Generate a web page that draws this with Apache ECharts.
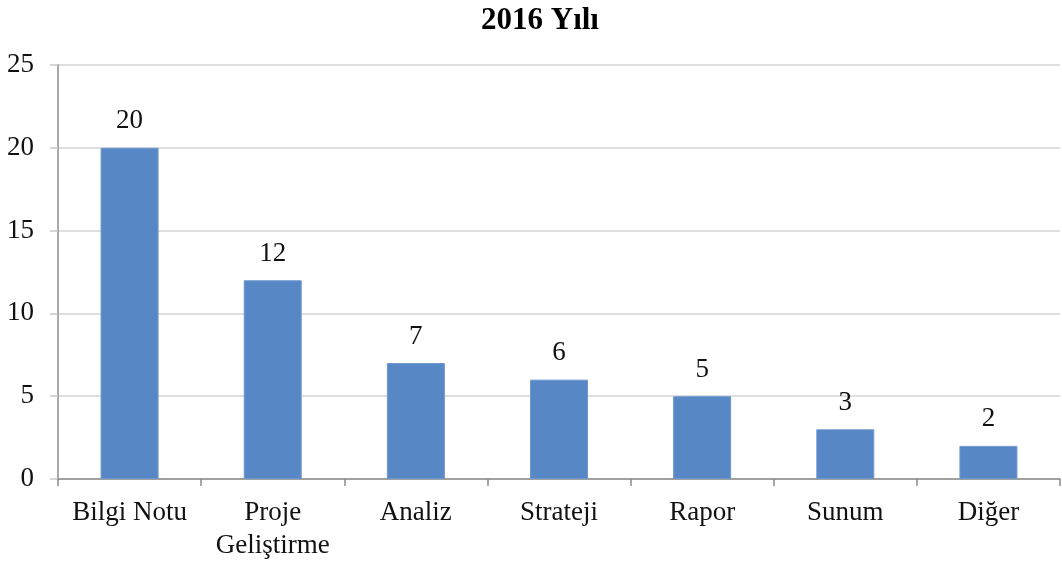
<!DOCTYPE html>
<html>
<head>
<meta charset="utf-8">
<script src="https://cdn.jsdelivr.net/npm/echarts@6/dist/echarts.min.js"></script>
<style>html,body{margin:0;padding:0;background:#fff;}#c{width:1062px;height:562px;}</style>
</head>
<body>
<div id="c"></div>
<script>
const title = '2016 Yılı';
const categories = ['Bilgi Notu', 'Proje\nGeliştirme', 'Analiz', 'Strateji', 'Rapor', 'Sunum', 'Diğer'];
const values = [20, 12, 7, 6, 5, 3, 2];
const yTicks = { min: 0, max: 25, interval: 5 };

const font = '"Liberation Serif", "DejaVu Serif", serif';
const chart = echarts.init(document.getElementById('c'), null, { renderer: 'canvas' });
chart.setOption({
  animation: false,
  backgroundColor: '#ffffff',
  title: {
    text: title,
    left: 476,
    top: 0,
    textStyle: { fontFamily: font, fontWeight: 'bold', fontSize: 31, color: '#000' }
  },
  grid: { left: 58, right: 2, top: 65, bottom: 81, containLabel: false },
  xAxis: {
    type: 'category',
    data: categories,
    axisLine: { show: true, lineStyle: { color: '#8c8c8c', width: 1.5 } },
    axisTick: { show: true, length: 7, lineStyle: { color: '#8c8c8c', width: 1.5 } },
    axisLabel: { margin: 17, fontFamily: font, fontSize: 27, color: '#111', lineHeight: 33, interval: 0 }
  },
  yAxis: {
    type: 'value',
    min: yTicks.min, max: yTicks.max, interval: yTicks.interval,
    axisLine: { show: true, lineStyle: { color: '#8c8c8c', width: 1.5 } },
    axisTick: { show: true, length: 8, lineStyle: { color: '#c8c8c8', width: 1.5 } },
    splitLine: { show: true, lineStyle: { color: '#d4d4d4', width: 1.5 } },
    axisLabel: { margin: 24, fontFamily: font, fontSize: 27, color: '#111' }
  },
  series: [{
    type: 'bar',
    data: values,
    barWidth: 58,
    itemStyle: { color: '#5787c5', borderColor: '#6d98cf', borderWidth: 1 },
    label: { show: true, position: 'top', distance: 13, fontFamily: font, fontSize: 27, color: '#111' }
  }]
});
</script>
</body>
</html>
